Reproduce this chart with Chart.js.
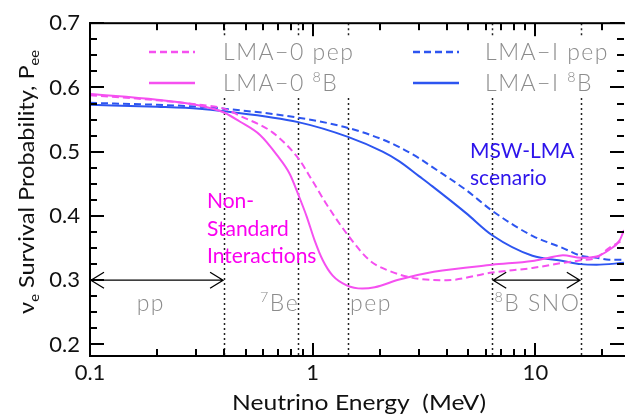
<!DOCTYPE html>
<html>
<head>
<meta charset="utf-8">
<script src="https://cdn.jsdelivr.net/npm/chart.js@4/dist/chart.umd.min.js"></script>
<style>
  html, body { margin: 0; padding: 0; background: #fff; }
  canvas { display: block; }
</style>
</head>
<body>
<canvas id="pee" width="625" height="414"></canvas>
<script>
// energies (MeV) and survival probabilities
const eLma0Pep = [0.1, 0.2, 0.31, 0.4, 0.47, 0.66, 0.86, 1.0, 1.15, 1.44, 1.8, 2.15, 3.0, 4.0, 6.4, 9.7, 13.3, 16, 18.8, 21.4, 25];
const pLma0Pep = [0.588, 0.580, 0.573, 0.567, 0.556, 0.530, 0.490, 0.454, 0.419, 0.370, 0.331, 0.316, 0.302, 0.300, 0.312, 0.319, 0.327, 0.331, 0.335, 0.350, 0.363];

const eLma08B = [0.1, 0.2, 0.31, 0.4, 0.47, 0.58, 0.69, 0.79, 0.86, 0.94, 1.02, 1.11, 1.23, 1.42, 1.67, 1.9, 2.45, 3.5, 6.4, 9.7, 11.5, 13.3, 16, 18.8, 21.4, 23.9, 25];
const pLma08B = [0.590, 0.581, 0.572, 0.561, 0.547, 0.526, 0.495, 0.465, 0.434, 0.399, 0.362, 0.331, 0.307, 0.292, 0.287, 0.289, 0.301, 0.313, 0.324, 0.330, 0.335, 0.339, 0.335, 0.337, 0.347, 0.362, 0.378];

const eLmaIPep = [0.1, 0.2, 0.31, 0.4, 0.86, 1.44, 2.06, 2.45, 3.0, 3.45, 4.9, 6.4, 9.7, 13.3, 16, 18.8, 21.4, 25];
const pLmaIPep = [0.576, 0.573, 0.570, 0.567, 0.553, 0.537, 0.519, 0.507, 0.490, 0.476, 0.440, 0.408, 0.369, 0.350, 0.338, 0.335, 0.332, 0.332];

const eLmaI8B = [0.1, 0.2, 0.31, 0.4, 0.86, 1.44, 2.06, 2.45, 3.0, 3.45, 4.9, 6.4, 9.7, 13.3, 16, 18.8, 25];
const pLmaI8B = [0.573, 0.570, 0.567, 0.563, 0.546, 0.523, 0.500, 0.485, 0.462, 0.446, 0.404, 0.370, 0.338, 0.330, 0.325, 0.324, 0.327];

const energyTicks = [0.1, 1, 10];
const probTicks = [0.2, 0.3, 0.4, 0.5, 0.6, 0.7];
const regionEdges = [0.4, 0.86, 1.44, 6.4, 16];   // dotted lines
const arrowSpans = [[0.1, 0.4], [6.4, 16]];       // double arrows at P = 0.3
const arrowLevel = 0.3;

const MAGENTA = 'rgb(245,80,240)';
const BLUE = 'rgb(45,85,240)';
const GRAY = 'rgb(140,140,140)';
const FONT = 'Lato, "Open Sans", sans-serif';

const pts = (xs, ys) => xs.map((v, i) => ({ x: v, y: ys[i] }));

function rich(ctx, parts, x, y, size, weight, color, spacing) {
  ctx.fillStyle = color;
  ctx.textAlign = 'left';
  ctx.textBaseline = 'alphabetic';
  ctx.letterSpacing = (spacing || 0) + 'px';
  let cx = x;
  parts.forEach(p => {
    const fs = p.s ? size * 0.62 : size;
    ctx.font = `${weight} ${fs}px ${FONT}`;
    const dy = p.s === 'sub' ? size * 0.22 : p.s === 'sup' ? -size * 0.4 : 0;
    ctx.fillText(p.t, cx, y + dy);
    cx += ctx.measureText(p.t).width;
  });
  ctx.letterSpacing = '0px';
  return cx - x;
}

function richWidth(ctx, parts, size, weight) {
  let w = 0;
  parts.forEach(p => {
    ctx.font = `${weight} ${p.s ? size * 0.62 : size}px ${FONT}`;
    w += ctx.measureText(p.t).width;
  });
  return w;
}

const legendBand = [37, 98];

const behind = {
  id: 'behind',
  beforeDatasetsDraw(chart) {
    const { ctx, chartArea: a, scales: { x } } = chart;
    ctx.save();
    ctx.strokeStyle = '#222';
    ctx.lineWidth = 1.5;
    ctx.setLineDash([2, 3]);
    regionEdges.forEach(e => {
      const px = Math.round(x.getPixelForValue(e)) + 0.5;
      ctx.beginPath();
      ctx.moveTo(px, a.top);
      ctx.lineTo(px, legendBand[0]);
      ctx.moveTo(px, legendBand[1]);
      ctx.lineTo(px, a.bottom);
      ctx.stroke();
    });
    ctx.restore();
  }
};

const overlay = {
  id: 'overlay',
  afterDraw(chart) {
    const { ctx, chartArea: a, scales: { x, y } } = chart;
    ctx.save();
    ctx.setLineDash([]);
    ctx.fillStyle = '#000';

    // frame
    ctx.fillRect(a.left - 1, a.top - 1, 2, a.bottom - a.top + 2);
    ctx.fillRect(a.left - 1, a.bottom - 1, a.right - a.left + 2, 2);
    ctx.fillRect(a.left - 1, a.top - 1, a.right - a.left + 2, 2);

    // inward ticks, y (both sides)
    for (let k = 0; k <= 20; k++) {
      const len = k % 4 === 0 ? 14 : 7;
      const py = Math.round(y.getPixelForValue(0.2 + k * 0.025));
      ctx.fillRect(a.left, py - 1, len, 2);
      ctx.fillRect(a.right - len, py - 1, len, 2);
    }
    // inward ticks, x (log), bottom and top
    energyTicks.forEach(dec => {
      for (let m = 1; m <= 9; m++) {
        const v = dec * m;
        if (v <= 0.1 || v > 25) continue;
        const len = m === 1 ? 13 : 7;
        const px = Math.round(x.getPixelForValue(v));
        ctx.fillRect(px - 1, a.bottom - len, 2, len);
        ctx.fillRect(px - 1, a.top, 2, len);
      }
    });

    // double arrows
    ctx.strokeStyle = '#000';
    ctx.lineWidth = 1.3;
    const ay = y.getPixelForValue(arrowLevel);
    arrowSpans.forEach(([e0, e1]) => {
      const x0 = x.getPixelForValue(e0) + 1, x1 = x.getPixelForValue(e1) - 1;
      ctx.beginPath();
      ctx.moveTo(x0, ay); ctx.lineTo(x1, ay);
      ctx.moveTo(x0 + 13, ay - 8); ctx.lineTo(x0, ay); ctx.lineTo(x0 + 13, ay + 8);
      ctx.moveTo(x1 - 13, ay - 8); ctx.lineTo(x1, ay); ctx.lineTo(x1 - 13, ay + 8);
      ctx.stroke();
    });

    // region labels
    const ly = 311;
    rich(ctx, [{ t: 'pp' }], x.getPixelForValue(0.162), ly, 23, 300, GRAY, 1.5);
    rich(ctx, [{ t: '7', s: 'sup' }, { t: 'Be' }], x.getPixelForValue(0.58), ly, 23, 300, GRAY, 1.5);
    rich(ctx, [{ t: 'pep' }], x.getPixelForValue(1.47), ly, 23, 300, GRAY, 1.5);
    rich(ctx, [{ t: '8', s: 'sup' }, { t: 'B SNO' }], x.getPixelForValue(6.55), ly, 23, 300, GRAY, 1.5);

    // annotations
    rich(ctx, [{ t: 'MSW-LMA' }], 470, 158, 21, 400, 'rgb(45,20,235)');
    rich(ctx, [{ t: 'scenario' }], 470, 185, 21, 400, 'rgb(45,20,235)');
    rich(ctx, [{ t: 'Non-' }], 207, 208, 21, 400, 'rgb(250,0,240)');
    rich(ctx, [{ t: 'Standard' }], 207, 236, 21, 400, 'rgb(250,0,240)');
    rich(ctx, [{ t: 'Interactions' }], 207, 263, 21, 400, 'rgb(250,0,240)');

    // legend
    const rows = [52, 83];
    const cols = [[149, 223], [413, 485]];
    chart.data.datasets.forEach((ds, i) => {
      const [lx, tx] = cols[Math.floor(i / 2)];
      const ry = rows[i % 2];
      ctx.strokeStyle = ds.borderColor;
      ctx.lineWidth = 2.5;
      ctx.setLineDash(ds.borderDash || []);
      ctx.beginPath();
      ctx.moveTo(lx, ry); ctx.lineTo(lx + 46, ry);
      ctx.stroke();
      ctx.setLineDash([]);
      rich(ctx, ds.legendParts, tx, ry + 8, 23, 300, GRAY, 1.5);
    });

    // axis titles
    const xt = [{ t: 'Neutrino Energy  (MeV)' }];
    ctx.save();
    ctx.translate((a.left + a.right) / 2 + 2, 410);
    ctx.scale(1.12, 1);
    const xw = richWidth(ctx, xt, 22, 400);
    rich(ctx, xt, -xw / 2, 0, 22, 400, '#111');
    ctx.restore();

    const yt = [{ t: 'ν' }, { t: 'e', s: 'sub' }, { t: ' Survival Probability, P' }, { t: 'ee', s: 'sub' }];
    const yw = richWidth(ctx, yt, 22, 400);
    ctx.translate(34, 182);
    ctx.rotate(-Math.PI / 2);
    ctx.scale(1.07, 1);
    rich(ctx, yt, -yw / 2, 0, 22, 400, '#111');

    ctx.restore();
  }
};

const chart = new Chart(document.getElementById('pee').getContext('2d'), {
  type: 'line',
  data: {
    datasets: [
      { label: 'LMA−0 pep', legendParts: [{ t: 'LMA−0 pep' }], data: pts(eLma0Pep, pLma0Pep), borderColor: MAGENTA, borderDash: [7, 4] },
      { label: 'LMA−0 8B', legendParts: [{ t: 'LMA−0 ' }, { t: '8', s: 'sup' }, { t: 'B' }], data: pts(eLma08B, pLma08B), borderColor: MAGENTA },
      { label: 'LMA−I pep', legendParts: [{ t: 'LMA−I pep' }], data: pts(eLmaIPep, pLmaIPep), borderColor: BLUE, borderDash: [7, 4] },
      { label: 'LMA−I 8B', legendParts: [{ t: 'LMA−I ' }, { t: '8', s: 'sup' }, { t: 'B' }], data: pts(eLmaI8B, pLmaI8B), borderColor: BLUE }
    ]
  },
  options: {
    responsive: false,
    animation: false,
    layout: { padding: { top: 16, right: 1, left: 0, bottom: 0 } },
    datasets: {
      line: { borderWidth: 2, pointRadius: 0, cubicInterpolationMode: 'monotone', fill: false }
    },
    plugins: { legend: { display: false }, tooltip: { enabled: false } },
    scales: {
      x: {
        type: 'logarithmic',
        min: 0.1,
        max: 25,
        afterBuildTicks: s => { s.ticks = energyTicks.map(v => ({ value: v })); },
        afterFit: s => { s.height = 58; },
        grid: { display: false, drawTicks: false },
        border: { display: false },
        ticks: {
          autoSkip: false,
          maxRotation: 0,
          padding: 4,
          color: '#111',
          font: { family: FONT, size: 22 },
          callback: v => String(v)
        }
      },
      y: {
        min: 0.182,
        max: 0.7,
        afterBuildTicks: s => { s.ticks = probTicks.map(v => ({ value: v })); },
        afterFit: s => { s.width = 90; },
        grid: { display: false, drawTicks: false },
        border: { display: false },
        ticks: {
          padding: 10,
          color: '#111',
          font: { family: FONT, size: 22 },
          callback: v => v.toFixed(1)
        }
      }
    }
  },
  plugins: [behind, overlay]
});
</script>
</body>
</html>
